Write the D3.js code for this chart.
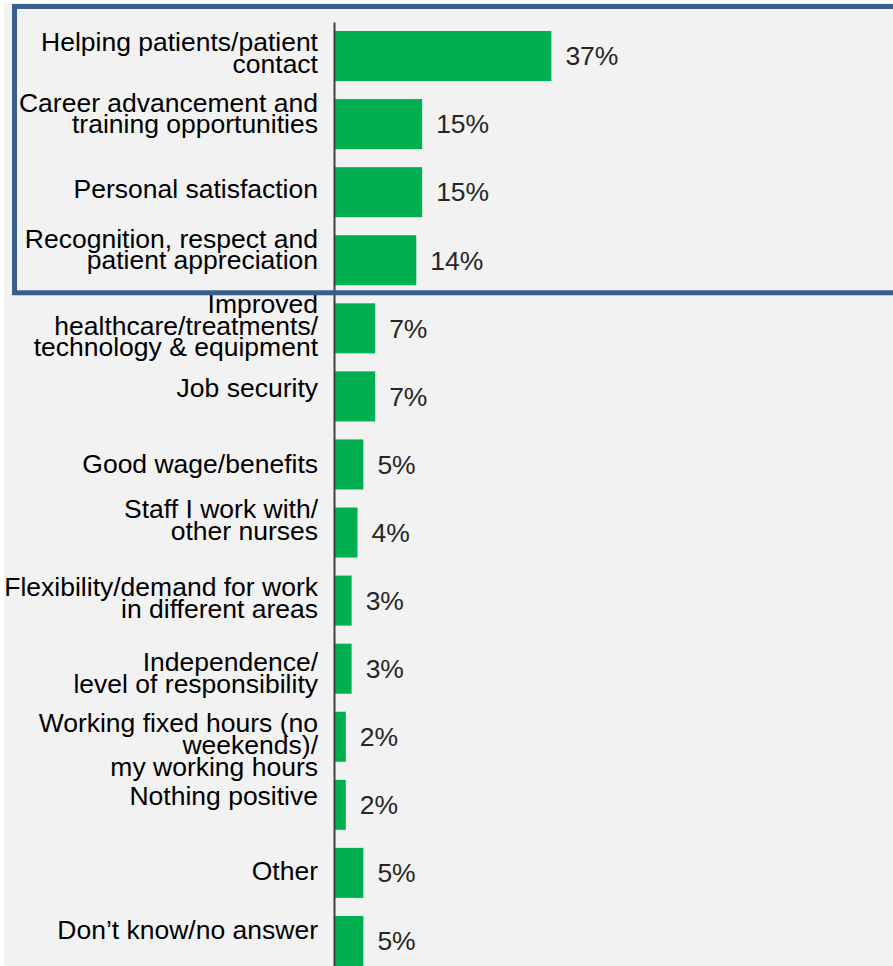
<!DOCTYPE html>
<html>
<head>
<meta charset="utf-8">
<script src="https://cdn.jsdelivr.net/npm/d3@7/dist/d3.min.js"></script>
<style>
  html, body { margin: 0; padding: 0; background: #ffffff; }
  svg { display: block; }
  text { font-family: "Liberation Sans", Arial, Helvetica, sans-serif; }
</style>
</head>
<body>
<svg id="chart" width="893" height="966"></svg>
<script>
// Reasons nurses give for what is positive about their work (% of respondents)
const categories = [
  "Helping patients/patient\ncontact",
  "Career advancement and\ntraining opportunities",
  "Personal satisfaction",
  "Recognition, respect and\npatient appreciation",
  "Improved\nhealthcare/treatments/\ntechnology & equipment",
  "Job security",
  "Good wage/benefits",
  "Staff I work with/\nother nurses",
  "Flexibility/demand for work\nin different areas",
  "Independence/\nlevel of responsibility",
  "Working fixed hours (no\nweekends)/\nmy working hours",
  "Nothing positive",
  "Other",
  "Don\u2019t know/no answer"
];
const values = [37, 15, 15, 14, 7, 7, 5, 4, 3, 3, 2, 2, 5, 5];

// The first four rows are framed as the top answers
const highlightedCount = 4;

// Per-row vertical nudge of the category text block (px), relative to bar centre
const labelNudge = [-3, -11, -3, -11, -3, -9, -1, -13, -3, 4, 8, -9, -2, -11];

const W = 893, H = 966;
const axisX = 334;
const fontSize = 26.5;
const lineHeight = 21.7;

const svg = d3.select("#chart");

// panel background
svg.append("rect")
  .attr("x", 4).attr("y", 3)
  .attr("width", W - 4).attr("height", H - 3)
  .attr("fill", "#f2f2f2");

const x = d3.scaleLinear().domain([0, 40]).range([axisX, axisX + 235]);
const y = d3.scaleBand()
  .domain(categories)
  .range([22, 975])
  .paddingInner(0.265)
  .paddingOuter(0.1325);

const rows = categories.map((c, i) => ({ cat: c, value: values[i], nudge: labelNudge[i] }));

// bars
svg.append("g")
  .selectAll("rect")
  .data(rows)
  .join("rect")
  .attr("x", x(0))
  .attr("y", d => y(d.cat))
  .attr("width", d => x(d.value) - x(0))
  .attr("height", y.bandwidth())
  .attr("fill", "#00b050");

// value labels
svg.append("g")
  .selectAll("text")
  .data(rows)
  .join("text")
  .attr("x", d => x(d.value) + 14)
  .attr("y", d => y(d.cat) + y.bandwidth() / 2)
  .attr("dy", "0.35em")
  .attr("font-size", fontSize)
  .attr("fill", "#262626")
  .text(d => d.value + "%");

// category axis line
const axis = d3.axisLeft(y).tickSize(0).tickSizeOuter(0).tickFormat("");
const axisG = svg.append("g")
  .attr("transform", `translate(${axisX},0)`)
  .call(axis);
axisG.select(".domain").attr("stroke", "#404040").attr("stroke-width", 2);

// category labels (multi-line, right aligned)
const labels = svg.append("g")
  .selectAll("text")
  .data(rows)
  .join("text")
  .attr("text-anchor", "end")
  .attr("font-size", fontSize)
  .attr("fill", "#000000");

labels.each(function (d) {
  const lines = d.cat.split("\n");
  const cy = y(d.cat) + y.bandwidth() / 2 + d.nudge;
  const first = cy - (lines.length - 1) * lineHeight / 2;
  d3.select(this).selectAll("tspan")
    .data(lines)
    .join("tspan")
    .attr("x", 318)
    .attr("y", (l, j) => first + j * lineHeight)
    .attr("dy", "0.35em")
    .text(l => l);
});

// frame around the leading answers
const topRows = categories.slice(0, highlightedCount);
const frameTop = 6.5;
const frameBottom = y(topRows[topRows.length - 1]) + y.bandwidth() + 7.5;
svg.append("rect")
  .attr("x", 14.5)
  .attr("y", frameTop)
  .attr("width", W + 20)
  .attr("height", frameBottom - frameTop)
  .attr("fill", "none")
  .attr("stroke", "#3a5e8c")
  .attr("stroke-width", 5);
</script>
</body>
</html>
